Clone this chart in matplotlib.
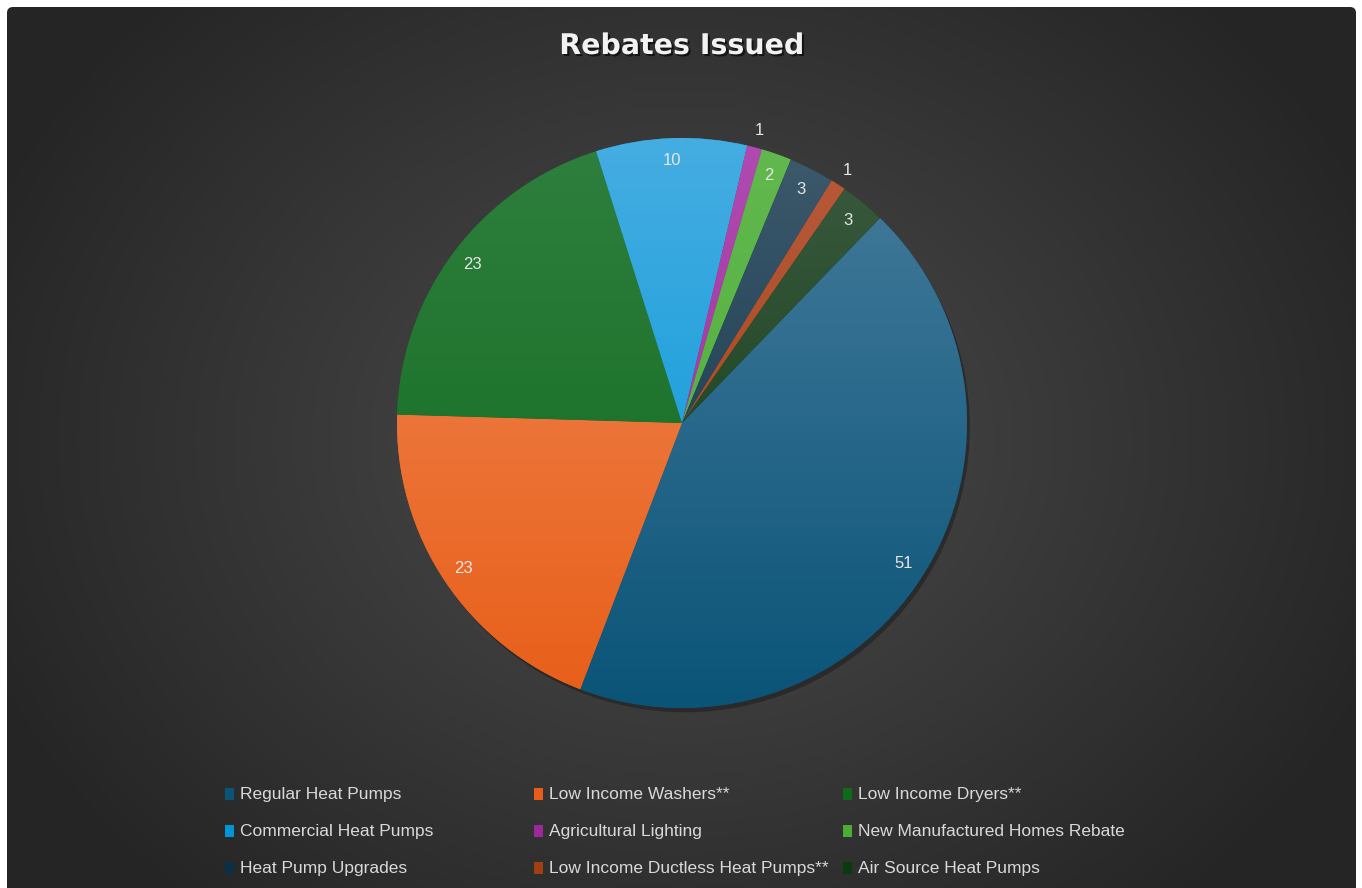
"""
Rebates Issued pie chart
"""
import numpy as np
import matplotlib
matplotlib.use("Agg")
import matplotlib.pyplot as plt
import matplotlib.patheffects as pe
from matplotlib.colors import to_rgb
from matplotlib.patches import Rectangle, FancyBboxPatch

categories = ["Regular Heat Pumps", "Low Income Washers**", "Low Income Dryers**",
              "Commercial Heat Pumps", "Agricultural Lighting", "New Manufactured Homes Rebate",
              "Heat Pump Upgrades", "Low Income Ductless Heat Pumps**", "Air Source Heat Pumps"]
values = [51, 23, 23, 10, 1, 2, 3, 1, 3]

# gradient colours per slice (top, bottom)
top_colors = ["#467c9c", "#f08a58", "#2f7f3e", "#45ade2", "#b04ab0", "#62b84e", "#3e5a6c", "#b85a3a", "#3c5a40"]
bot_colors = ["#0a5478", "#e85e18", "#0f6a1c", "#0096d6", "#9a2a9a", "#4aae36", "#0a3048", "#a04010", "#0a3a10"]

W, H = 1362, 888
fig = plt.figure(figsize=(W / 100, H / 100), dpi=100)
fig.patch.set_facecolor("white")

# background with radial gradient
bg = fig.add_axes([0, 0, 1, 1])
bg.set_xlim(0, W); bg.set_ylim(H, 0); bg.axis("off")
yy, xx = np.mgrid[0:H, 0:W]
d = np.sqrt(((xx - 682) / 760.0) ** 2 + ((yy - 440) / 620.0) ** 2)
d = np.clip(d, 0, 1)
c0, c1 = np.array(to_rgb("#4c4c4c")), np.array(to_rgb("#252525"))
img = c0[None, None, :] * (1 - d[..., None]) + c1[None, None, :] * d[..., None]
frame = FancyBboxPatch((7, 7), 1349, 900, boxstyle="round,pad=0,rounding_size=6",
                       facecolor="none", edgecolor="none")
bg.add_patch(frame)
im = bg.imshow(img, extent=(0, W, H, 0), zorder=0)
im.set_clip_path(frame)

# pie
cx, cy, r = 682, 423, 285
ax = fig.add_axes([(cx - r) / W, (H - cy - r) / H, 2 * r / W, 2 * r / H])

# soft shadow
ax.pie([1], radius=1.0, colors=["#1a1a1a"], center=(0.01, -0.015),
       wedgeprops=dict(alpha=0.5, linewidth=0))

wedges, _ = ax.pie(values, startangle=46, counterclock=False, radius=1.0,
                   colors=bot_colors, wedgeprops=dict(linewidth=0))

grad = np.linspace(0, 1, 256)[:, None]
for w, ct, cb in zip(wedges, top_colors, bot_colors):
    a, b = np.array(to_rgb(ct)), np.array(to_rgb(cb))
    g = a[None, None, :] * (1 - grad[..., None]) + b[None, None, :] * grad[..., None]
    g = np.repeat(g, 2, axis=1)
    gi = ax.imshow(g, extent=(-1, 1, -1, 1), origin="upper", zorder=2, aspect="auto")
    gi.set_clip_path(w)
ax.set_xlim(-1, 1); ax.set_ylim(-1, 1); ax.set_aspect("equal"); ax.axis("off")

for w, v in zip(wedges, values):
    mid = np.deg2rad((w.theta1 + w.theta2) / 2)
    dist = 1.06 if v == 1 else 0.92
    ax.text(dist * np.cos(mid), dist * np.sin(mid), str(v), ha="center", va="center",
            fontsize=12, color="#e6e6e6", zorder=5, family=["Liberation Sans", "DejaVu Sans"])

# title
fig.text(cx / W, 1 - 46 / H, "Rebates Issued", ha="center", va="center", fontsize=20.5,
         fontweight="bold", color="#f2f2f2", family=["DejaVu Sans"],
         path_effects=[pe.withSimplePatchShadow(offset=(1.5, -1.5), shadow_rgbFace="black", alpha=0.6)])

# legend, three equal columns
col_x = [225, 534, 843]
row_y = [794, 831, 868]
for i, (name, ct, cb) in enumerate(zip(categories, top_colors, bot_colors)):
    x, y = col_x[i % 3], row_y[i // 3]
    fig.patches.append(Rectangle((x / W, 1 - (y + 6) / H), 9 / W, 12 / H,
                                 transform=fig.transFigure, facecolor=cb, edgecolor="none"))
    fig.text((x + 15) / W, 1 - y / H, name, ha="left", va="center", fontsize=12.5,
             color="#d9d9d9", family=["Liberation Sans Narrow", "DejaVu Sans Condensed", "Liberation Sans"])

plt.savefig("out.png", dpi=100, facecolor="white")
plt.close()
